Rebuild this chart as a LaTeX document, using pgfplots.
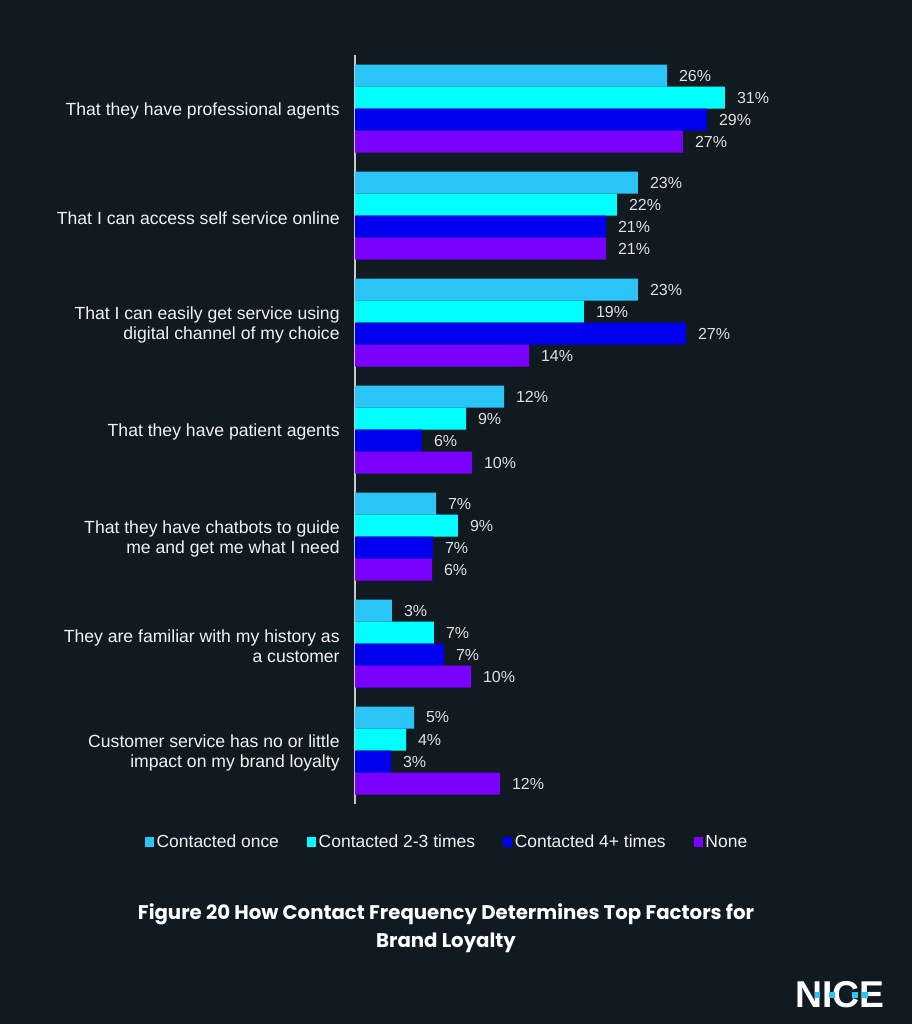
\documentclass[border=0pt]{standalone}
\usepackage{fontspec}
\setmainfont{Liberation Sans}
\newfontfamily\titlefont{Poppins}
\usepackage{pgfplots}
\pgfplotsset{compat=1.18}
\definecolor{bg}{HTML}{121A21}
\definecolor{conce}{HTML}{2BC4F6}
\definecolor{ctwo}{HTML}{00FFFF}
\definecolor{cfour}{HTML}{0000EE}
\definecolor{cnone}{HTML}{7A00FF}
\definecolor{txt}{HTML}{F2F2F2}
\definecolor{lbl}{HTML}{E0E0E0}
\definecolor{axln}{HTML}{C8C8C8}

\begin{document}
\begin{tikzpicture}
\fill[bg] (0,0) rectangle (684pt,-768pt);
\begin{axis}[
  at={(266.25pt,-41.25pt)}, anchor=north west,
  scale only axis, width=315pt, height=561.75pt,
  xbar, bar width=16.5pt, clip=false,
  xmin=0, xmax=35, ymin=-0.5, ymax=6.5,
  axis x line=none, axis y line=left,
  axis line style={-, draw=axln, line width=1.1pt},
  ytick={0,...,6}, major tick length=0,
  yticklabels={
    {Customer service has no or little\\impact on my brand loyalty},
    {They are familiar with my history as\\a customer},
    {That they have chatbots to guide\\me and get me what I need},
    {That they have patient agents},
    {That I can easily get service using\\digital channel of my choice},
    {That I can access self service online},
    {That they have professional agents}},
  yticklabel style={align=right, font=\fontsize{13.2}{15}\selectfont, text=txt,
    xshift=-8pt, yshift=-2pt},
  /pgf/number format/assume math mode=true,
  point meta=explicit,
  nodes near coords={\pgfmathprintnumber{\pgfplotspointmeta}\%},
  nodes near coords style={anchor=west, font=\fontsize{12}{14}\selectfont, text=lbl, xshift=5.5pt},
  legend columns=4,
  legend image code/.code={\fill[#1] (0pt,-3.4pt) rectangle (6.8pt,3.4pt);},
  legend style={at={(axis description cs:0.22,0)}, anchor=center, yshift=-28.5pt,
    draw=none, fill=none, text=txt, font=\fontsize{13.1}{15}\selectfont,
    /tikz/every even column/.append style={column sep=19pt}},
]
% bar length = measured value, label = printed value
\addplot[fill=conce, draw=none, bar shift=24.75pt] coordinates {
  (4.92,0) [5] (3.08,1) [3] (6.75,2) [7] (12.42,3) [12]
  (23.58,4) [23] (23.58,5) [23] (26.0,6) [26]};
\addplot[fill=ctwo, draw=none, bar shift=8.25pt] coordinates {
  (4.25,0) [4] (6.58,1) [7] (8.58,2) [9] (9.25,3) [9]
  (19.08,4) [19] (21.83,5) [22] (30.83,6) [31]};
\addplot[fill=cfour, draw=none, bar shift=-8.25pt] coordinates {
  (3.0,0) [3] (7.42,1) [7] (6.5,2) [7] (5.58,3) [6]
  (27.58,4) [27] (20.92,5) [21] (29.33,6) [29]};
\addplot[fill=cnone, draw=none, bar shift=-24.75pt] coordinates {
  (12.08,0) [12] (9.67,1) [10] (6.42,2) [6] (9.75,3) [10]
  (14.5,4) [14] (20.92,5) [21] (27.33,6) [27]};
\legend{Contacted once, Contacted 2-3 times, Contacted 4+ times, None}
\end{axis}
\node[font=\titlefont\bfseries\fontsize{14.8}{21}\selectfont, text=white, align=center]
  at (334.5pt,-696pt) {Figure 20 How Contact Frequency Determines Top Factors for\\Brand Loyalty};
\node[font=\bfseries\fontsize{28}{28}\selectfont, text=white, inner sep=0pt, anchor=base]
  at (630pt,-755.25pt) {NICE};
\begin{scope}[x=0.75pt,y=-0.75pt]
\fill[conce] (815,992) rectangle (820,998);
\fill[conce] (829,992) rectangle (835,998);
\fill[conce] (852,992) rectangle (858,998);
\fill[conce] (862,992) rectangle (868,998);
\end{scope}
\end{tikzpicture}
\end{document}
